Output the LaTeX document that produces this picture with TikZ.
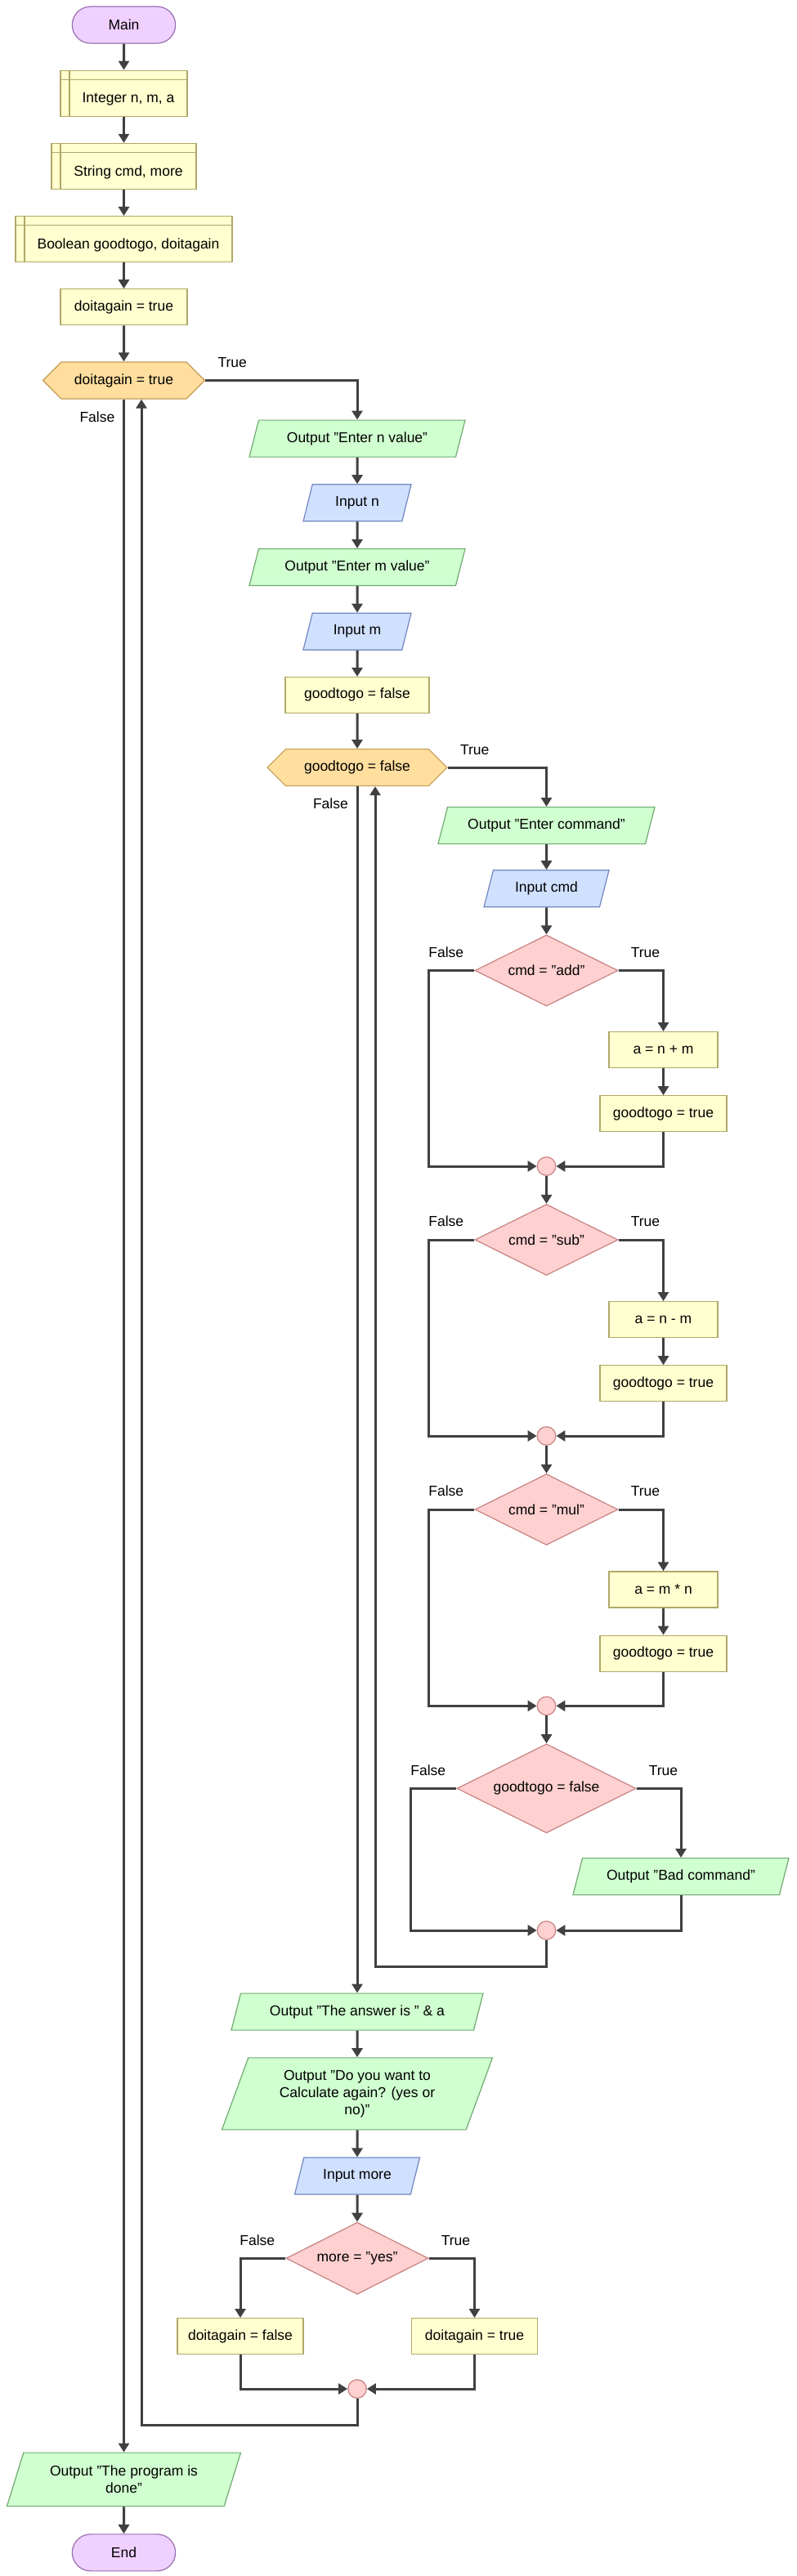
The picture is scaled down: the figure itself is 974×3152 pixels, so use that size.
\documentclass[tikz,border=0pt]{standalone}
\usepackage{fontspec}
\setmainfont{Liberation Sans}
\usepackage{xcolor}
\usepackage{tikz}
\usetikzlibrary{positioning, shapes.geometric, shapes.misc, shapes.symbols, arrows.meta}

\definecolor{termfill}{RGB}{240,208,255}
\definecolor{termline}{RGB}{152,112,176}
\definecolor{procfill}{RGB}{255,255,208}
\definecolor{procline}{RGB}{176,168,104}
\definecolor{loopfill}{RGB}{255,222,158}
\definecolor{loopline}{RGB}{196,156,84}
\definecolor{outpfill}{RGB}{208,255,208}
\definecolor{outpline}{RGB}{112,170,112}
\definecolor{inpfill}{RGB}{208,224,255}
\definecolor{inpline}{RGB}{112,136,192}
\definecolor{decfill}{RGB}{255,208,208}
\definecolor{decline}{RGB}{200,130,130}
\definecolor{flow}{RGB}{64,64,64}

\begin{document}
\begin{tikzpicture}[x=1pt, y=1pt, font=\fontsize{17.5pt}{21pt}\selectfont]

	\tikzstyle{arrow} = [line width=3pt, draw=flow, -{Triangle[width=13pt,length=11pt]}]
	\tikzstyle{term} = [rounded rectangle, draw=termline, fill=termfill, line width=1.2pt, minimum width=133pt, minimum height=45pt]
	\tikzstyle{decl} = [rectangle, draw=procline, fill=procfill, line width=1.2pt, minimum height=56pt, text height=23.5pt, text depth=0pt,
	execute at begin node={\hspace*{11pt}},
	path picture={\draw[procline, line width=1.2pt] ([xshift=11pt]path picture bounding box.north west) -- ([xshift=11pt]path picture bounding box.south west)
		([yshift=-11pt]path picture bounding box.north west) -- ([yshift=-11pt]path picture bounding box.north east);}]
	\tikzstyle{proc} = [rectangle, draw=procline, fill=procfill, line width=1.2pt, minimum height=44pt]
	\tikzstyle{loopc} = [signal, signal to=west and east, signal pointer angle=90, draw=loopline, fill=loopfill, line width=1.2pt, minimum height=45pt]
	\tikzstyle{outp} = [trapezium, trapezium left angle=63.4, trapezium right angle=116.6, trapezium stretches body=true, align=center,
	draw=outpline, fill=outpfill, line width=1.2pt, minimum height=45pt]
	\tikzstyle{inp} = [trapezium, trapezium left angle=63.4, trapezium right angle=116.6, trapezium stretches body=true,
	draw=inpline, fill=inpfill, line width=1.2pt, minimum height=45pt]
	\tikzstyle{dec} = [diamond, aspect=2, draw=decline, fill=decfill, line width=1.2pt, minimum width=175pt, minimum height=87pt, inner sep=1pt]
	\tikzstyle{merge} = [circle, draw=decline, fill=decfill, line width=1.2pt, minimum size=22.6pt, inner sep=0pt]
	\tikzstyle{lbl} = [inner sep=0pt]

	\useasboundingbox (0,0) rectangle (974,-3152);

	\node[term] (main) at (151.5,-30.5) {Main};
	\node[decl, minimum width=155pt, below=32pt of main] (intg) {Integer n, m, a};
	\node[decl, minimum width=177pt, below=32pt of intg] (strg) {String cmd, more};
	\node[decl, minimum width=265pt, below=32pt of strg] (bool) {Boolean goodtogo, doitagain};
	\node[proc, minimum width=155pt, below=32pt of bool] (doit) {doitagain = true};
	\node[loopc, minimum width=198pt, below=44pt of doit] (wh1) {doitagain = true};
	\node[lbl, above right=15.75pt and 15pt of wh1.east] (wh1t) {True};
	\node[lbl, below left=37.75pt and 11pt of wh1.center] (wh1f) {False};

	\node[outp, minimum width=264pt, anchor=north] (outn) at (437,-513.5) {Output "Enter n value"};
	\node[inp, minimum width=132pt, below=32.5pt of outn] (inn) {Input n};
	\node[outp, minimum width=264pt, below=32.5pt of inn] (outm) {Output "Enter m value"};
	\node[inp, minimum width=132pt, below=32.5pt of outm] (inm) {Input m};
	\node[proc, minimum width=176pt, below=32pt of inm] (gtf) {goodtogo = false};
	\node[loopc, minimum width=220pt, below=43pt of gtf] (wh2) {goodtogo = false};
	\node[lbl, above right=15.75pt and 15pt of wh2.east] (wh2t) {True};
	\node[lbl, below left=37.75pt and 11pt of wh2.center] (wh2f) {False};

	\node[outp, minimum width=265pt, anchor=north] (ocmd) at (668.5,-987) {Output "Enter command"};
	\node[inp, minimum width=153pt, below=31pt of ocmd] (icmd) {Input cmd};

	\node[dec, below=33pt of icmd] (dadd) {cmd = "add"};
	\node[lbl, above right=15.75pt and 15pt of dadd.east] (daddt) {True};
	\node[lbl, above left=15.75pt and 13pt of dadd.west] (daddf) {False};
	\node[proc, minimum width=133pt, anchor=north] (add) at (811.5,-1262) {a = n + m};
	\node[proc, minimum width=155pt, below=33pt of add] (gtt1) {goodtogo = true};
	\node[merge] (m1) at (668.5,-1427) {};

	\node[dec, below=34pt of m1] (dsub) {cmd = "sub"};
	\node[lbl, above right=15.75pt and 15pt of dsub.east] (dsubt) {True};
	\node[lbl, above left=15.75pt and 13pt of dsub.west] (dsubf) {False};
	\node[proc, minimum width=133pt, anchor=north] (sub) at (811.5,-1592) {a = n - m};
	\node[proc, minimum width=155pt, below=33pt of sub] (gtt2) {goodtogo = true};
	\node[merge] (m2) at (668.5,-1757) {};

	\node[dec, below=34pt of m2] (dmul) {cmd = "mul"};
	\node[lbl, above right=15.75pt and 15pt of dmul.east] (dmult) {True};
	\node[lbl, above left=15.75pt and 13pt of dmul.west] (dmulf) {False};
	\node[proc, minimum width=133pt, anchor=north] (mul) at (811.5,-1922.3) {a = m * n};
	\node[proc, minimum width=155pt, below=33pt of mul] (gtt3) {goodtogo = true};
	\node[merge] (m3) at (668.5,-2087.3) {};

	\node[dec, minimum width=219pt, minimum height=109pt, below=34pt of m3] (dbad) {goodtogo = false};
	\node[lbl, above right=15.75pt and 15pt of dbad.east] (dbadt) {True};
	\node[lbl, above left=15.75pt and 13pt of dbad.west] (dbadf) {False};
	\node[outp, minimum width=264pt, anchor=north] (obad) at (833,-2273) {Output "Bad command"};
	\node[merge] (m4) at (668.5,-2362) {};

	\node[outp, minimum width=308pt, anchor=north] (oans) at (437,-2438.5) {Output "The answer is " \& a};
	\node[outp, minimum width=331pt, minimum height=88pt, below=32.5pt of oans] (oagain) {Output "Do you want to\\Calculate again? (yes or\\no)"};
	\node[inp, minimum width=153pt, below=33pt of oagain] (imore) {Input more};
	\node[dec, minimum width=174pt, minimum height=88pt, below=33pt of imore] (dmore) {more = "yes"};
	\node[lbl, above right=15.75pt and 15pt of dmore.east] (dmoret) {True};
	\node[lbl, above left=15.75pt and 13pt of dmore.west] (dmoref) {False};
	\node[proc, minimum width=154pt, anchor=north] (dfalse) at (294,-2836) {doitagain = false};
	\node[proc, minimum width=154pt, anchor=north] (dtrue) at (580.5,-2836) {doitagain = true};
	\node[merge] (m5) at (437,-2923) {};

	\node[outp, minimum width=286pt, minimum height=65.5pt, anchor=north] (done) at (151.5,-3000.5) {Output "The program is\\done"};
	\node[term, below=33pt of done] (fin) {End};

	\draw [arrow] (main) -- (intg);
	\draw [arrow] (intg) -- (strg);
	\draw [arrow] (strg) -- (bool);
	\draw [arrow] (bool) -- (doit);
	\draw [arrow] (doit) -- (wh1);
	\draw [arrow] (wh1.east) -| (outn.north);
	\draw [arrow] (wh1.south) -- (done.north);
	\draw [arrow] (outn) -- (inn);
	\draw [arrow] (inn) -- (outm);
	\draw [arrow] (outm) -- (inm);
	\draw [arrow] (inm) -- (gtf);
	\draw [arrow] (gtf) -- (wh2);
	\draw [arrow] (wh2.east) -| (ocmd.north);
	\draw [arrow] (wh2.south) -- (oans.north);
	\draw [arrow] (ocmd) -- (icmd);
	\draw [arrow] (icmd) -- (dadd);

	\draw [arrow] (dadd.east) -| (add.north);
	\draw [arrow] (add) -- (gtt1);
	\draw [arrow] (gtt1.south) |- (m1.east);
	\draw [arrow] (dadd.west) -- ++(-56,0) |- (m1.west);
	\draw [arrow] (m1) -- (dsub);

	\draw [arrow] (dsub.east) -| (sub.north);
	\draw [arrow] (sub) -- (gtt2);
	\draw [arrow] (gtt2.south) |- (m2.east);
	\draw [arrow] (dsub.west) -- ++(-56,0) |- (m2.west);
	\draw [arrow] (m2) -- (dmul);

	\draw [arrow] (dmul.east) -| (mul.north);
	\draw [arrow] (mul) -- (gtt3);
	\draw [arrow] (gtt3.south) |- (m3.east);
	\draw [arrow] (dmul.west) -- ++(-56,0) |- (m3.west);
	\draw [arrow] (m3) -- (dbad);

	\draw [arrow] (dbad.east) -| (obad.north);
	\draw [arrow] (obad.south) |- (m4.east);
	\draw [arrow] (dbad.west) -- ++(-56,0) |- (m4.west);
	\draw [arrow] (m4.south) -- ++(0,-33) -| ([xshift=22pt]wh2.south);

	\draw [arrow] (oans) -- (oagain);
	\draw [arrow] (oagain) -- (imore);
	\draw [arrow] (imore) -- (dmore);
	\draw [arrow] (dmore.west) -| (dfalse.north);
	\draw [arrow] (dmore.east) -| (dtrue.north);
	\draw [arrow] (dfalse.south) |- (m5.west);
	\draw [arrow] (dtrue.south) |- (m5.east);
	\draw [arrow] (m5.south) -- ++(0,-33) -| ([xshift=21.5pt]wh1.south);

	\draw [arrow] (done) -- (fin);

\end{tikzpicture}
\end{document}
